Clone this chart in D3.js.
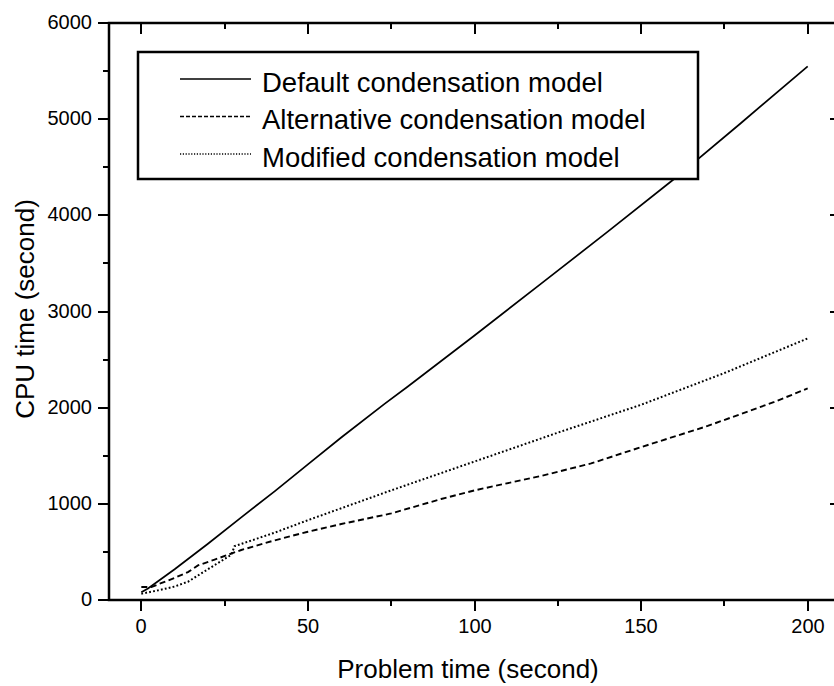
<!DOCTYPE html>
<html>
<head>
<meta charset="utf-8">
<script src="https://cdn.jsdelivr.net/npm/d3@7"></script>
<style>
  html, body { margin: 0; padding: 0; background: #fff; }
  svg { display: block; }
  text { font-family: "Liberation Sans", Arial, Helvetica, sans-serif; fill: #000; }
</style>
</head>
<body>
<svg id="chart" width="834" height="686"></svg>
<script>
// Problem time (s) vs CPU time (s) for three condensation models
const defaultX  = [0, 2, 10, 20, 30, 40, 50, 60, 73, 80, 100, 120, 140, 160, 180, 200];
const defaultY  = [80, 120, 320, 585, 860, 1130, 1410, 1690, 2040, 2220, 2750, 3290, 3830, 4380, 4960, 5550];

const altX = [0, 3, 10, 14, 17, 22, 30, 40, 50, 60, 75, 90, 100, 120, 135, 150, 170, 190, 200];
const altY = [135, 135, 230, 290, 360, 420, 520, 620, 710, 790, 900, 1050, 1140, 1290, 1420, 1590, 1810, 2060, 2200];

const modX = [0, 5, 10, 14, 20, 27, 28, 40, 50, 75, 100, 125, 150, 175, 200];
const modY = [65, 100, 140, 190, 320, 470, 560, 700, 830, 1140, 1440, 1740, 2030, 2360, 2720];

const xTicks = [0, 50, 100, 150, 200];
const yTicks = [0, 1000, 2000, 3000, 4000, 5000, 6000];
const legendLabels = ["Default condensation model", "Alternative condensation model", "Modified condensation model"];
const xTitle = "Problem time (second)";
const yTitle = "CPU time (second)";

const svg = d3.select("#chart");
const plotL = 109, plotR = 841, plotT = 23, plotB = 600;

const x = d3.scaleLinear().domain([-10, 210]).range([plotL - 1, plotR]);
const y = d3.scaleLinear().domain([0, 6000]).range([plotB, plotT]);
// pixel-snapped copies for crisp tick marks
const xa = x.copy().interpolate(d3.interpolateRound);
const ya = y.copy().interpolate(d3.interpolateRound);

const xMinor = d3.range(0, 211, 25).filter(v => !xTicks.includes(v));
const yMinor = d3.range(500, 6000, 1000);

// data lines
const series = [
  { xs: defaultX, ys: defaultY, dash: null, w: 1.7 },
  { xs: altX, ys: altY, dash: "6,3.5", w: 1.9 },
  { xs: modX, ys: modY, dash: "1.8,2.2", w: 2 }
];
const line = d3.line().x(d => x(d[0])).y(d => y(d[1]));
series.forEach(s => {
  svg.append("path")
    .datum(s.xs.map((v, i) => [v, s.ys[i]]))
    .attr("d", line)
    .attr("fill", "none")
    .attr("stroke", "#000")
    .attr("stroke-width", s.w)
    .attr("stroke-dasharray", s.dash);
});

// axes: bottom & left with outward ticks, top & right with inward ticks
const g = svg.append("g");
const fmt = d3.format("d");
function styleAxis(sel) {
  sel.select(".domain").remove();
  sel.selectAll(".tick line").attr("stroke", "#000").attr("stroke-width", 2);
  sel.selectAll("text").style("font-size", "20px").style("font-family", "'Liberation Sans', Arial, sans-serif");
}
function ax(gen) { return gen.offset(0); }
g.append("g").attr("transform", `translate(0,${plotB})`)
  .call(ax(d3.axisBottom(xa)).tickValues(xTicks).tickSize(11).tickPadding(8).tickFormat(fmt))
  .call(styleAxis);
g.append("g").attr("transform", `translate(0,${plotB})`)
  .call(ax(d3.axisBottom(xa)).tickValues(xMinor).tickSize(6).tickFormat(""))
  .call(styleAxis);
g.append("g").attr("transform", `translate(${plotL},0)`)
  .call(ax(d3.axisLeft(ya)).tickValues(yTicks).tickSize(11).tickPadding(6).tickFormat(fmt))
  .call(styleAxis);
g.append("g").attr("transform", `translate(${plotL},0)`)
  .call(ax(d3.axisLeft(ya)).tickValues(yMinor).tickSize(6).tickFormat(""))
  .call(styleAxis);
g.append("g").attr("transform", `translate(0,${plotT})`)
  .call(ax(d3.axisBottom(xa)).tickValues(xTicks).tickSize(11).tickFormat(""))
  .call(styleAxis);
g.append("g").attr("transform", `translate(0,${plotT})`)
  .call(ax(d3.axisBottom(xa)).tickValues(xMinor).tickSize(6).tickFormat(""))
  .call(styleAxis);
g.append("g").attr("transform", `translate(${plotR},0)`)
  .call(ax(d3.axisLeft(ya)).tickValues(yTicks).tickSize(11).tickFormat(""))
  .call(styleAxis);
g.append("g").attr("transform", `translate(${plotR},0)`)
  .call(ax(d3.axisLeft(ya)).tickValues(yMinor).tickSize(6).tickFormat(""))
  .call(styleAxis);

// frame
svg.append("rect")
  .attr("x", plotL).attr("y", plotT)
  .attr("width", plotR - plotL).attr("height", plotB - plotT)
  .attr("fill", "none").attr("stroke", "#000").attr("stroke-width", 2.5);

// axis titles
svg.append("text")
  .attr("x", 468).attr("y", 678)
  .attr("text-anchor", "middle")
  .style("font-size", "26px")
  .text(xTitle);
svg.append("text")
  .attr("transform", "translate(34,309) rotate(-90)")
  .attr("text-anchor", "middle")
  .style("font-size", "26px")
  .text(yTitle);

// legend
const lg = svg.append("g");
lg.append("rect")
  .attr("x", 138).attr("y", 52).attr("width", 560).attr("height", 127)
  .attr("fill", "#fff").attr("stroke", "#000").attr("stroke-width", 2.5);
legendLabels.forEach((lab, i) => {
  const yy = 79 + i * 37.5;
  lg.append("line")
    .attr("x1", 180).attr("x2", 251).attr("y1", yy).attr("y2", yy)
    .attr("stroke", "#000").attr("stroke-width", 1.4)
    .attr("stroke-dasharray", series[i].dash ? (i === 1 ? "4,2" : "1.2,1.6") : null);
  lg.append("text")
    .attr("x", 262).attr("y", yy + 12.5)
    .style("font-size", "27.5px")
    .text(lab);
});
</script>
</body>
</html>
